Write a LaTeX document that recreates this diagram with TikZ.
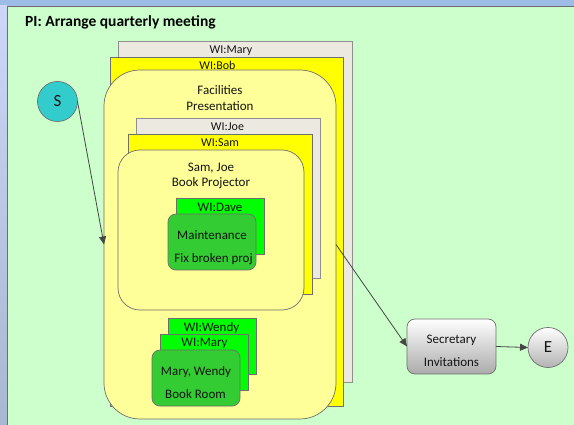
\documentclass[tikz,border=0pt]{standalone}
\usepackage{fontspec}
\setmainfont{Carlito}
\usetikzlibrary{arrows.meta}
\definecolor{bgblue}{HTML}{9EBDE6}
\definecolor{bglav}{HTML}{CDD6F7}
\definecolor{bglavd}{HTML}{A8B7D2}
\definecolor{pgreen}{HTML}{CCFFCC}
\definecolor{wigray}{HTML}{ECE9E0}
\definecolor{wiyellow}{HTML}{FFFF00}
\definecolor{actyellow}{HTML}{FFFF99}
\definecolor{wigreen}{HTML}{00FF00}
\definecolor{actgreen}{HTML}{33CC33}
\definecolor{scyan}{HTML}{33CCCC}
\definecolor{edge}{HTML}{6E6E6E}
\definecolor{grayedge}{HTML}{8E8E8E}
\definecolor{arr}{HTML}{464646}
\definecolor{txt}{HTML}{141414}
\tikzset{
  box/.style={draw=edge, line width=0.7pt, inner sep=0pt, outer sep=0pt, anchor=north west},
  graywi/.style={box, draw=grayedge, fill=wigray},
  yellowwi/.style={box, fill=wiyellow},
  greenwi/.style={box, fill=wigreen},
  yellowact/.style={box, fill=actyellow, rounded corners=#1},
  greenact/.style={box, fill=actgreen, rounded corners=8pt},
  lbl/.style={font=\fontsize{12}{14}\selectfont, text=txt, anchor=base, inner sep=0pt},
  tlbl/.style={font=\fontsize{13}{15}\selectfont, text=txt, anchor=base, inner sep=0pt},
  flow/.style={draw=arr, line width=0.8pt, -{Triangle[length=8pt,width=7pt]}},
  evt/.style={circle, draw=edge, line width=0.7pt, minimum size=40pt, inner sep=0pt, outer sep=0pt,
              font=\fontsize{17}{19}\selectfont, text=txt},
}
\begin{document}
\begin{tikzpicture}[x=1pt,y=-1pt]
\useasboundingbox (0,0) rectangle (574,425);
% background frame
\fill[bgblue] (0,0) rectangle (574,6);
\shade[top color=bglav, bottom color=bglavd] (0,6) rectangle (7,425);
\fill[pgreen] (7,6) rectangle (574,425);
\draw[edge, line width=0.9pt] (7,425) -- (7,6) -- (574,6);
\node[font=\bfseries\fontsize{15.5}{17}\selectfont, anchor=base west, inner sep=0pt] (title) at (25,26.3) {PI: Arrange quarterly meeting};

% WI:Mary / WI:Bob / Facilities
\node[graywi, minimum width=234pt, minimum height=341pt] (maryBox) at (118,41) {};
\node[lbl] (maryLbl) at (231,53.3) {WI:Mary};
\node[yellowwi, minimum width=233pt, minimum height=349pt] (bobBox) at (110,57) {};
\node[lbl] (bobLbl) at (217.5,69.3) {WI:Bob};
\node[yellowact=36pt, minimum width=232pt, minimum height=349pt] (facBox) at (104,70) {};
\node[tlbl] (facL1) at (220,94.2) {Facilities};
\node[tlbl] (facL2) at (220,110.5) {Presentation};

% WI:Joe / WI:Sam / Sam, Joe
\node[graywi, minimum width=184pt, minimum height=160pt] (joeBox) at (136,118) {};
\node[lbl] (joeLbl) at (227.5,130.9) {WI:Joe};
\node[yellowwi, minimum width=184pt, minimum height=160pt] (samBox) at (128,134) {};
\node[lbl] (samLbl) at (220,146.3) {WI:Sam};
\node[yellowact=22pt, minimum width=186pt, minimum height=160pt] (sjBox) at (118,150) {};
\node[tlbl] (sjL1) at (211,171.4) {Sam, Joe};
\node[tlbl] (sjL2) at (211,186.8) {Book Projector};

% WI:Dave / Maintenance
\node[greenwi, minimum width=88pt, minimum height=56pt] (daveBox) at (176,198) {};
\node[tlbl] (daveLbl) at (220,211.8) {WI:Dave};
\node[greenact, minimum width=88pt, minimum height=56pt] (maintBox) at (168,214) {};
\node[tlbl] (maintL1) at (212,239.5) {Maintenance};
\node[tlbl] (maintL2) at (213.5,262.5) {Fix broken proj};

% WI:Wendy / WI:Mary / Mary, Wendy
\node[greenwi, minimum width=88pt, minimum height=56pt] (wendyBox) at (168,318) {};
\node[tlbl] (wendyLbl) at (211.5,331.8) {WI:Wendy};
\node[greenwi, minimum width=88pt, minimum height=56pt] (mary2Box) at (160,334) {};
\node[tlbl] (mary2Lbl) at (204.5,346.8) {WI:Mary};
\node[greenact, minimum width=88pt, minimum height=56pt] (mwBox) at (152,350) {};
\node[tlbl] (mwL1) at (196,375.8) {Mary, Wendy};
\node[tlbl] (mwL2) at (195.5,399) {Book Room};

% Secretary
\node[box, rounded corners=8pt, top color=white, bottom color=black!33, minimum width=89pt, minimum height=55pt] (secBox) at (407,319) {};
\node[tlbl] (secL1) at (451.5,343.2) {Secretary};
\node[tlbl] (secL2) at (451.5,366.2) {Invitations};

% events
\node[evt, fill=scyan] (S) at (57.5,101.5) {S};
\node[evt, top color=white, bottom color=black!30] (E) at (548,347.5) {E};

% flows
\draw[flow] (S.east) -- (facBox.west);
\draw[flow] (facBox.east) -- (secBox.west);
\draw[flow] (secBox.east) -- (E.west);
\end{tikzpicture}
\end{document}
